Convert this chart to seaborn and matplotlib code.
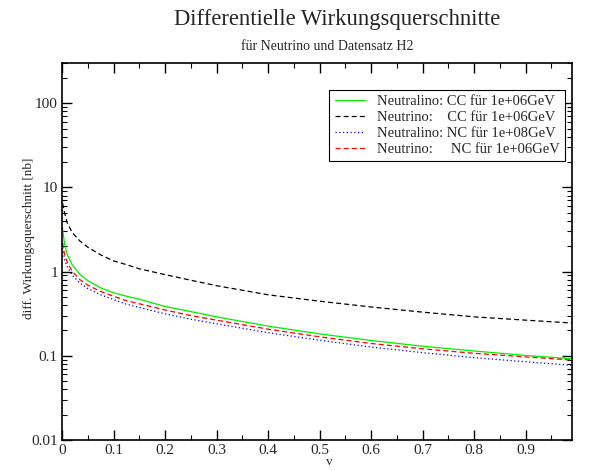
import matplotlib
matplotlib.use("Agg")
import matplotlib.pyplot as plt
import matplotlib.ticker as mticker
import seaborn as sns
import pandas as pd
import numpy as np

x_vals = [0.001, 0.005, 0.01, 0.02, 0.035, 0.05, 0.075, 0.1, 0.125, 0.15, 0.2, 0.25, 0.3,
          0.4, 0.5, 0.6, 0.7, 0.8, 0.9, 0.99]
neutralino_cc = [3.3, 2.1, 1.6, 1.2, 0.92, 0.78, 0.64, 0.56, 0.51, 0.47, 0.385, 0.335, 0.29,
                 0.225, 0.182, 0.152, 0.13, 0.114, 0.101, 0.092]
neutrino_cc = [6.5, 5.0, 3.8, 2.9, 2.3, 1.95, 1.58, 1.34, 1.21, 1.08, 0.92, 0.79, 0.68,
               0.53, 0.445, 0.38, 0.33, 0.29, 0.265, 0.245]
neutralino_nc = [1.9, 1.4, 1.15, 0.9, 0.73, 0.63, 0.53, 0.465, 0.41, 0.375, 0.315, 0.272, 0.24,
                 0.188, 0.153, 0.127, 0.109, 0.095, 0.085, 0.077]
neutrino_nc = [2.2, 1.6, 1.3, 1.0, 0.80, 0.69, 0.58, 0.51, 0.45, 0.415, 0.35, 0.30, 0.265,
               0.207, 0.168, 0.14, 0.121, 0.107, 0.097, 0.089]

labels = ["Neutralino: CC für 1e+06GeV",
          "Neutrino:    CC für 1e+06GeV",
          "Neutralino: NC für 1e+08GeV",
          "Neutrino:     NC für 1e+06GeV"]
colors = ["#00ee00", "#000000", "#0000ff", "#ff0000"]
styles = ["-", (0, (4, 2.5)), (0, (1, 2)), (0, (4, 2.5))]

x_ticks = [0, 0.1, 0.2, 0.3, 0.4, 0.5, 0.6, 0.7, 0.8, 0.9]
x_ticklabels = ["0", "0.1", "0.2", "0.3", "0.4", "0.5", "0.6", "0.7", "0.8", "0.9"]
y_ticks = [0.01, 0.1, 1, 10, 100]
y_ticklabels = ["0.01", "0.1", "1", "10", "100"]

sns.set_style("ticks")
plt.rcParams['font.family'] = ['Liberation Serif', 'DejaVu Serif']

fig = plt.figure(figsize=(5.96, 4.70), dpi=100)
ax = fig.add_axes([62/596, 1-440/470, 510/596, 377/470])

series = [neutralino_cc, neutrino_cc, neutralino_nc, neutrino_nc]
for ys, lab, c, ls in zip(series, labels, colors, styles):
    df = pd.DataFrame({"v": x_vals, "val": ys})
    sns.lineplot(data=df, x="v", y="val", ax=ax, color=c, linestyle=ls, linewidth=0.9, label=lab)

ax.set_yscale("log")
ax.set_xlim(0, 0.99)
ax.set_ylim(0.01, 300)
ax.set_xticks(x_ticks)
ax.set_xticklabels(x_ticklabels)
ax.xaxis.set_minor_locator(mticker.MultipleLocator(0.05))
ax.set_yticks(y_ticks)
ax.set_yticklabels(y_ticklabels)
ax.yaxis.set_minor_locator(mticker.LogLocator(base=10, subs=np.arange(2, 10)))
ax.yaxis.set_minor_formatter(mticker.NullFormatter())
ax.tick_params(which="both", direction="in", top=True, right=True, labelsize=11, color="black", pad=3)
ax.tick_params(which="major", length=7, width=1)
ax.tick_params(which="minor", length=3.6, width=0.8)
for s in ax.spines.values():
    s.set_linewidth(1.2)
    s.set_color("black")

ax.set_xlabel("v", fontsize=9.5, va="center")
ax.xaxis.set_label_coords(0.525, -0.058)
ax.set_ylabel("diff. Wirkungsquerschnitt [nb]", fontsize=9.5)
ax.yaxis.set_label_coords(-0.053, 0.536)

leg = ax.legend(loc="upper right", bbox_to_anchor=(0.986, 0.928), fontsize=10.5,
                frameon=True, fancybox=False, edgecolor="black", framealpha=1,
                handlelength=2.1, borderpad=0.35, labelspacing=0.18, handletextpad=0.8,
                borderaxespad=0)
leg.get_frame().set_linewidth(0.8)

fig.text(0.565, 0.958, "Differentielle Wirkungsquerschnitte", ha="center", va="center", fontsize=16.3)
fig.text(0.549, 0.902, "für Neutrino und Datensatz H2", ha="center", va="center", fontsize=10)

fig.savefig("out.png", dpi=100)
